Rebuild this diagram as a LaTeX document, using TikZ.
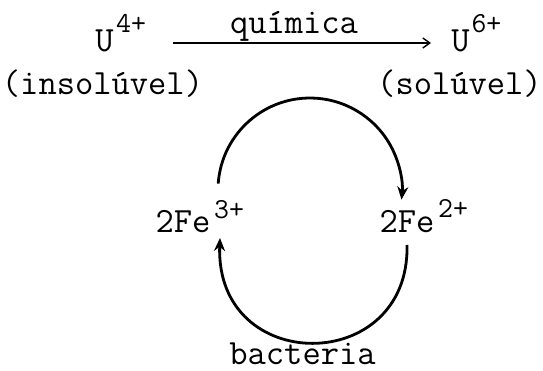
\documentclass[tikz,border=0pt]{standalone}
\usepackage{fontspec}
\usetikzlibrary{arrows.meta}
\tikzset{
  txt/.style={inner sep=0pt, anchor=base, font=\ttfamily\addfontfeature{FakeBold=0.5}\fontsize{35.5}{40}\selectfont},
  sup/.style={inner sep=0pt, anchor=base, font=\ttfamily\addfontfeature{FakeBold=0.5}\fontsize{29}{32}\selectfont},
  cycle/.style={line width=2.8pt, -{Stealth[length=13pt,width=11pt]}},
  react/.style={line width=1.4pt, -{Straight Barb[length=7pt,width=10pt,line width=1.4pt]}}
}
\begin{document}
\begin{tikzpicture}[x=1pt,y=1pt]
\useasboundingbox (0,0) rectangle (543,-371);
% top row
\node[txt] (u4) at (104.5,-52) {U};
\node[sup] (u4s) at (131,-33) {4+};
\node[txt] (quim) at (294,-34) {química};
\node[txt] (u6) at (460.5,-52) {U};
\node[sup] (u6s) at (486.5,-33) {6+};
\node[txt] (ins) at (102.5,-95) {(insolúvel)};
\node[txt] (sol) at (459.5,-95) {(solúvel)};
% iron
\node[txt] (fe3) at (183,-233) {2Fe};
\node[sup] (fe3s) at (229,-219) {3+};
\node[txt] (fe2) at (407,-233) {2Fe};
\node[sup] (fe2s) at (453,-218) {2+};
\node[txt] (bac) at (302.5,-364) {bacteria};
% connectors
\coordinate (ra) at (173,-43);
\coordinate (rb) at (431,-43);
\draw[react] (ra) -- (rb);
\coordinate (ua) at (218.2,-183.6);
\draw[cycle] (ua) arc[start angle=176, end angle=-6, radius=92];
\coordinate (la) at (407,-245);
\coordinate (lb) at (220,-238);
\draw[cycle] (la) .. controls (410,-376) and (215,-376) .. (lb);
\end{tikzpicture}
\end{document}
